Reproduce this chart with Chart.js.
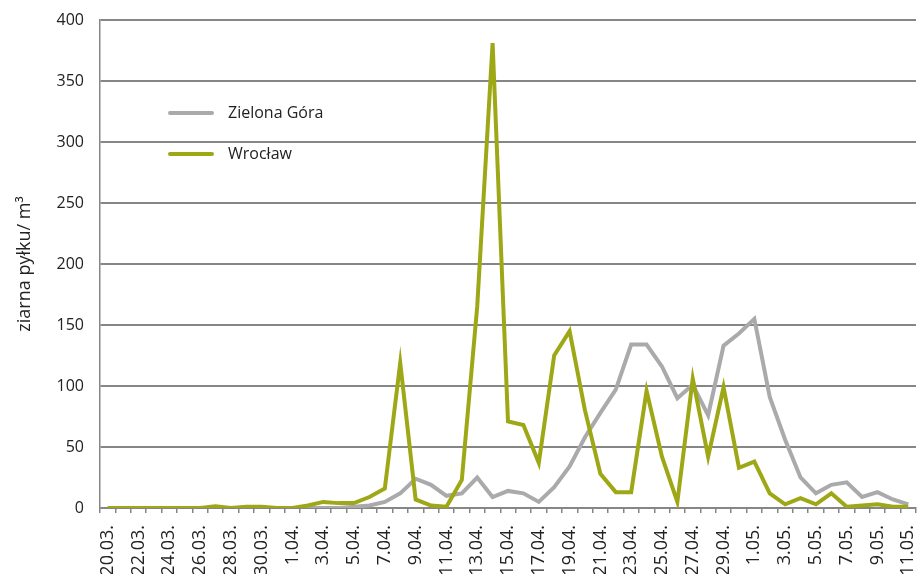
<!DOCTYPE html>
<html>
<head>
<meta charset="utf-8">
<script src="https://cdn.jsdelivr.net/npm/chart.js@4"></script>
<style>
  html, body { margin: 0; padding: 0; background: #fff; }
  #wrap { width: 917px; height: 574px; }
</style>
</head>
<body>
<div id="wrap"><canvas id="pollen" width="917" height="574"></canvas></div>
<script>
// dates 20.03. - 11.05.
const dates = [
  '20.03.', '21.03.', '22.03.', '23.03.', '24.03.', '25.03.', '26.03.', '27.03.', '28.03.', '29.03.', '30.03.', '31.03.',
  '1.04.', '2.04.', '3.04.', '4.04.', '5.04.', '6.04.', '7.04.', '8.04.', '9.04.', '10.04.', '11.04.', '12.04.',
  '13.04.', '14.04.', '15.04.', '16.04.', '17.04.', '18.04.', '19.04.', '20.04.', '21.04.', '22.04.', '23.04.',
  '24.04.', '25.04.', '26.04.', '27.04.', '28.04.', '29.04.', '30.04.',
  '1.05.', '2.05.', '3.05.', '4.05.', '5.05.', '6.05.', '7.05.', '8.05.', '9.05.', '10.05.', '11.05.'
];

const zielonaGora = [
  0, 0, 0, 0, 0, 0, 0, 0, 0, 0, 0, 0,
  0, 0, 0, 0, 1, 2, 5, 12, 24, 19, 10, 12,
  25, 9, 14, 12, 5, 17, 34, 58, 78, 97, 134,
  134, 116, 90, 101, 76, 133, 143,
  155, 91, 56, 25, 12, 19, 21, 9, 13, 7, 3
];

const wroclaw = [
  0, 0, 0, 0, 0, 0, 0, 1.5, 0, 1, 1, 0,
  0, 2, 5, 4, 4, 9, 16, 119, 7, 2, 1, 23,
  165, 381, 71, 68, 37, 125, 145, 80, 28, 13, 13,
  96, 42, 5, 106, 42, 99, 33,
  38, 12, 3, 8, 3, 12, 1, 2, 3, 1, 1
];

const yTicks = [0, 50, 100, 150, 200, 250, 300, 350, 400];

const FONT = '"Open Sans", "DejaVu Sans", sans-serif';

// legend drawn inside the plot, top left
const insideLegend = {
  id: 'insideLegend',
  afterDatasetsDraw(chart) {
    const ctx = chart.ctx;
    ctx.save();
    chart.data.datasets.forEach((ds, i) => {
      const y = 113 + i * 41;
      ctx.strokeStyle = ds.borderColor;
      ctx.lineWidth = 4;
      ctx.lineCap = 'round';
      ctx.beginPath();
      ctx.moveTo(170, y);
      ctx.lineTo(212, y);
      ctx.stroke();
      ctx.fillStyle = '#222';
      ctx.font = '16px ' + FONT;
      ctx.textBaseline = 'middle';
      ctx.fillText(ds.label, 228, y);
    });
    ctx.restore();
  }
};

new Chart(document.getElementById('pollen').getContext('2d'), {
  type: 'line',
  data: {
    labels: dates,
    datasets: [
      { label: 'Zielona Góra', data: zielonaGora, borderColor: '#aaaaac', borderWidth: 4, pointRadius: 0, tension: 0, order: 1 },
      { label: 'Wrocław', data: wroclaw, borderColor: '#9ea816', borderWidth: 4, pointRadius: 0, tension: 0, order: 0 }
    ]
  },
  options: {
    responsive: false,
    animation: false,
    layout: { padding: { top: 20, right: 1, left: 0, bottom: 0 } },
    plugins: { legend: { display: false }, tooltip: { enabled: false } },
    scales: {
      x: {
        offset: true,
        grid: { offset: true, drawOnChartArea: false, drawTicks: true, tickLength: 5, color: '#868686', lineWidth: 1.5 },
        border: { color: '#868686', width: 1.5 },
        ticks: {
          autoSkip: false, maxRotation: 90, minRotation: 90, padding: 12, color: '#222',
          font: { family: FONT, size: 18 },
          callback(value, index) { return index % 2 === 0 ? dates[index] : ''; }
        },
        afterFit(scale) {
          scale.height = 66;
          scale.paddingLeft = 0;
          scale.paddingRight = 0;
        }
      },
      y: {
        min: 0, max: 400,
        afterBuildTicks(scale) { scale.ticks = yTicks.map(v => ({ value: v })); },
        grid: { color: '#868686', lineWidth: 2, drawTicks: false },
        border: { color: '#868686', width: 1.5 },
        ticks: { padding: 16, color: '#222', font: { family: FONT, size: 16 } },
        title: {
          display: true, text: 'ziarna pyłku/ m³', color: '#222',
          font: { family: FONT, size: 18 }, padding: { top: 14, bottom: 0 }
        },
        afterFit(scale) {
          scale.width = 100;
          scale.paddingTop = 0;
          scale.paddingBottom = 0;
        }
      }
    }
  },
  plugins: [insideLegend]
});
</script>
</body>
</html>
